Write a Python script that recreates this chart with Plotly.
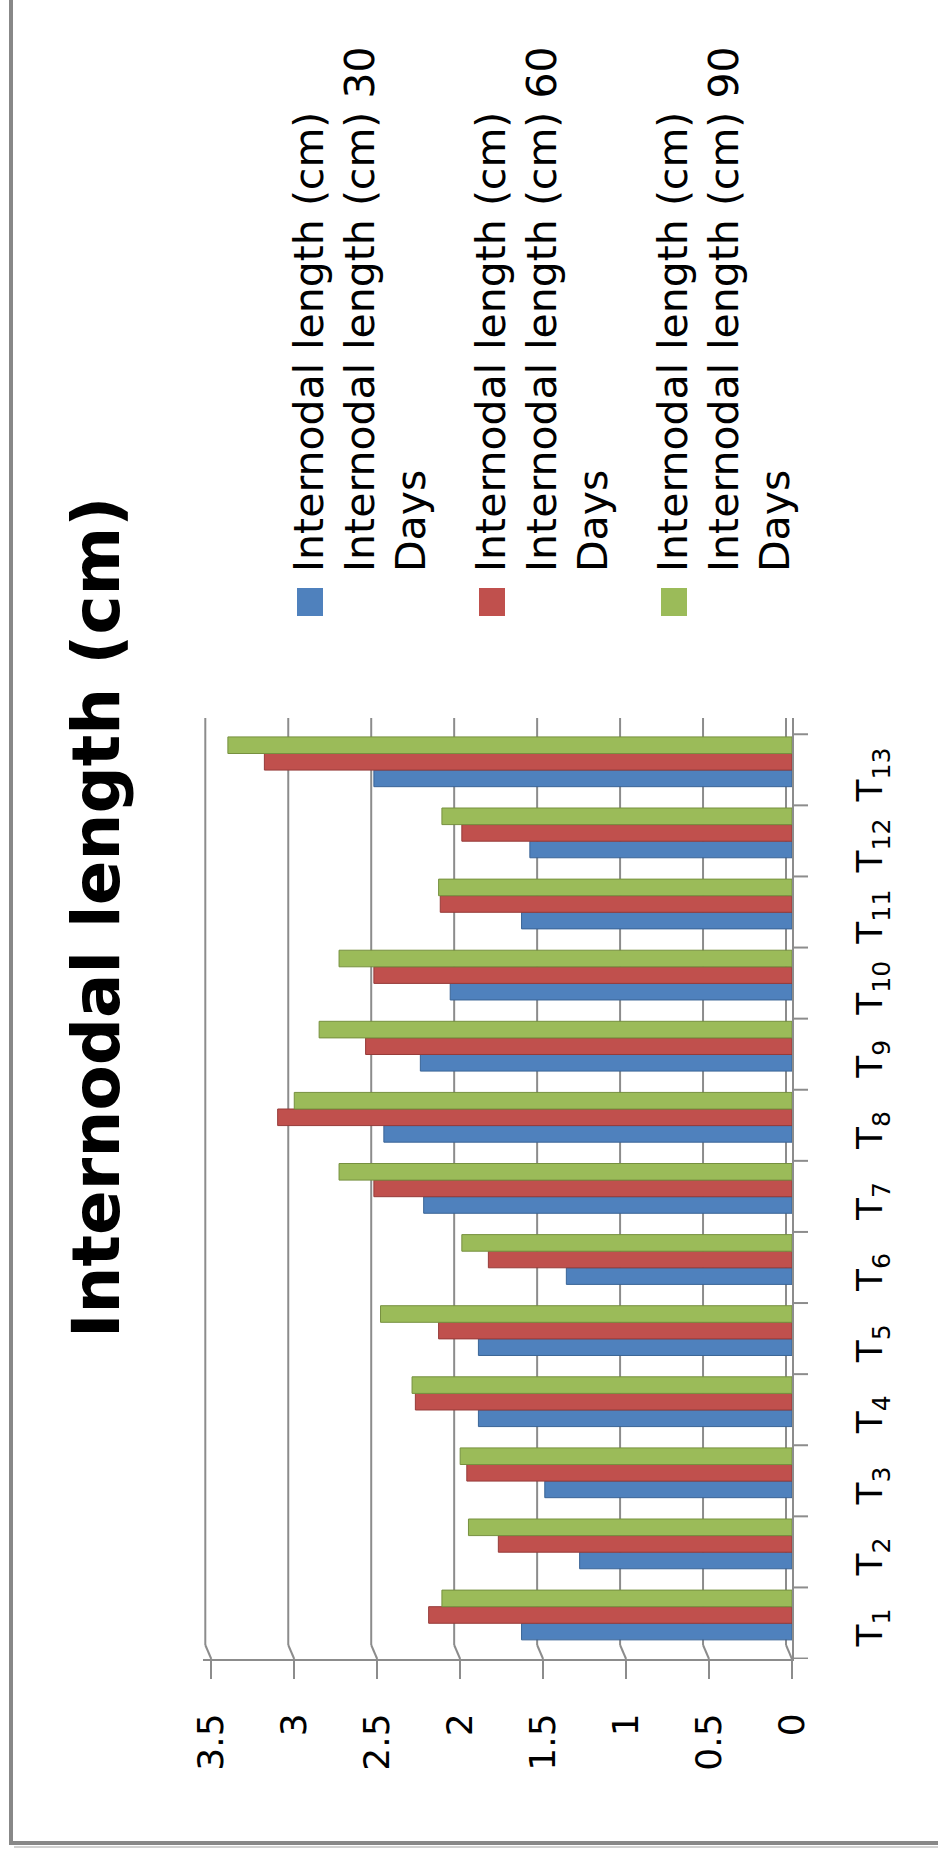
import plotly.graph_objects as go

# ---- data -------------------------------------------------------------
treatments = ["T1", "T2", "T3", "T4", "T5", "T6", "T7",
              "T8", "T9", "T10", "T11", "T12", "T13"]
days_30 = [1.63, 1.28, 1.49, 1.89, 1.89, 1.36, 2.22, 2.46, 2.24, 2.06, 1.63, 1.58, 2.52]
days_60 = [2.19, 1.77, 1.96, 2.27, 2.13, 1.83, 2.52, 3.10, 2.57, 2.52, 2.12, 1.99, 3.18]
days_90 = [2.11, 1.95, 2.00, 2.29, 2.48, 1.99, 2.73, 3.00, 2.85, 2.73, 2.13, 2.11, 3.40]
series_names = [
    ["Internodal length (cm)", "Internodal length (cm) 30", "Days"],
    ["Internodal length (cm)", "Internodal length (cm) 60", "Days"],
    ["Internodal length (cm)", "Internodal length (cm) 90", "Days"],
]
value_ticks = [0, 0.5, 1, 1.5, 2, 2.5, 3, 3.5]
value_tick_text = ["0", "0.5", "1", "1.5", "2", "2.5", "3", "3.5"]
title_text = "Internodal length (cm)"

# ---- style ------------------------------------------------------------
colors = ["#4F81BD", "#C0504D", "#9BBB59"]
edge_colors = ["#3A6496", "#963B39", "#76903F"]
grid_color = "#8C8C8C"
FONT = "DejaVu Sans"

W, H = 938, 1854
L, R, T, B = 203, 792, 718, 1659   # plot area in page pixels


def px_x(px):
    return (px - L) / (R - L)


def px_y(py):
    return (B - py) / (B - T)


fig = go.Figure()
for vals, col, edge, name in zip([days_30, days_60, days_90], colors, edge_colors, series_names):
    fig.add_trace(go.Bar(
        y=treatments, x=vals, orientation="h", name=" ".join(name),
        marker=dict(color=col, line=dict(color=edge, width=1)),
        showlegend=False,
    ))

shapes = []
# back-wall grid lines with the short receding floor segment
for v in value_ticks:
    shapes.append(dict(type="line", layer="below", xref="x", yref="paper",
                       xsizemode="pixel", xanchor=v, x0=-6, x1=-6,
                       ysizemode="pixel", yanchor=0, y0=14, y1=B - T,
                       line=dict(color=grid_color, width=2)))
    shapes.append(dict(type="line", layer="below", xref="x", yref="paper",
                       xsizemode="pixel", xanchor=v, x0=-6, x1=0,
                       ysizemode="pixel", yanchor=0, y0=14, y1=0,
                       line=dict(color=grid_color, width=2)))

# category tick marks on the front edge, between treatments
for i in range(len(treatments) + 1):
    shapes.append(dict(type="line", xref="paper", yref="y",
                       x0=1, x1=1 + 16 / (R - L),
                       ysizemode="pixel", yanchor=i - 0.5, y0=-8, y1=-8,
                       line=dict(color=grid_color, width=2)))

# legend keys
for k, col in enumerate(colors):
    off = 182 * k
    shapes.append(dict(type="rect", xref="paper", yref="paper",
                       x0=px_x(297 + off), x1=px_x(323 + off),
                       y0=px_y(616), y1=px_y(588),
                       fillcolor=col, line=dict(width=0)))

# chart frame
shapes.append(dict(type="line", xref="paper", yref="paper",
                   x0=px_x(11), x1=px_x(11), y0=px_y(-10), y1=px_y(1843),
                   line=dict(color="#888888", width=4)))
shapes.append(dict(type="line", xref="paper", yref="paper",
                   x0=px_x(9), x1=px_x(960), y0=px_y(1843), y1=px_y(1843),
                   line=dict(color="#888888", width=4)))
shapes.append(dict(type="line", xref="paper", yref="paper",
                   x0=px_x(14), x1=px_x(960), y0=px_y(1847), y1=px_y(1847),
                   line=dict(color="#D0D0D0", width=2)))

annotations = [dict(
    text="<b>" + title_text + "</b>", textangle=-90, showarrow=False,
    xref="paper", yref="paper", x=px_x(96), y=px_y(918),
    xanchor="center", yanchor="middle",
    font=dict(family=FONT, size=66, color="#000000"),
)]
for k, lines in enumerate(series_names):
    for j, line in enumerate(lines):
        annotations.append(dict(
            text=line, textangle=-90, showarrow=False,
            xref="paper", yref="paper",
            x=px_x(309 + 51 * j + 182 * k), y=px_y(574),
            xanchor="center", yanchor="bottom",
            font=dict(family=FONT, size=41, color="#000000"),
        ))

cat_labels = ["T<sub>" + t[1:] + "</sub>" for t in treatments]

fig.update_layout(
    width=W, height=H,
    margin=dict(l=L, r=W - R, t=T, b=H - B, pad=0),
    paper_bgcolor="white", plot_bgcolor="white",
    barmode="group", bargap=0.3, bargroupgap=0,
    shapes=shapes, annotations=annotations,
    font=dict(family=FONT, color="#000000"),
)
fig.update_xaxes(
    range=[3.55, 0], tickmode="array", tickvals=value_ticks, ticktext=value_tick_text,
    tickangle=-90, ticks="outside", ticklen=18, tickwidth=2, tickcolor=grid_color,
    showline=True, linecolor=grid_color, linewidth=2,
    showgrid=False, zeroline=False, ticklabelstandoff=20,
    tickfont=dict(family=FONT, size=36, color="#000000"),
)
fig.update_yaxes(
    type="category", categoryorder="array", categoryarray=treatments,
    range=[-0.619, 12.616], side="right",
    tickmode="array", tickvals=treatments, ticktext=cat_labels,
    ticks="", ticklen=15,
    showline=True, linecolor=grid_color, linewidth=2,
    showgrid=False, zeroline=False, tickangle=-90,
    ticklabelstandoff=45, ticklabelshift=18,
    tickfont=dict(family=FONT, size=36, color="#000000"),
)

fig.write_html("out.html")
